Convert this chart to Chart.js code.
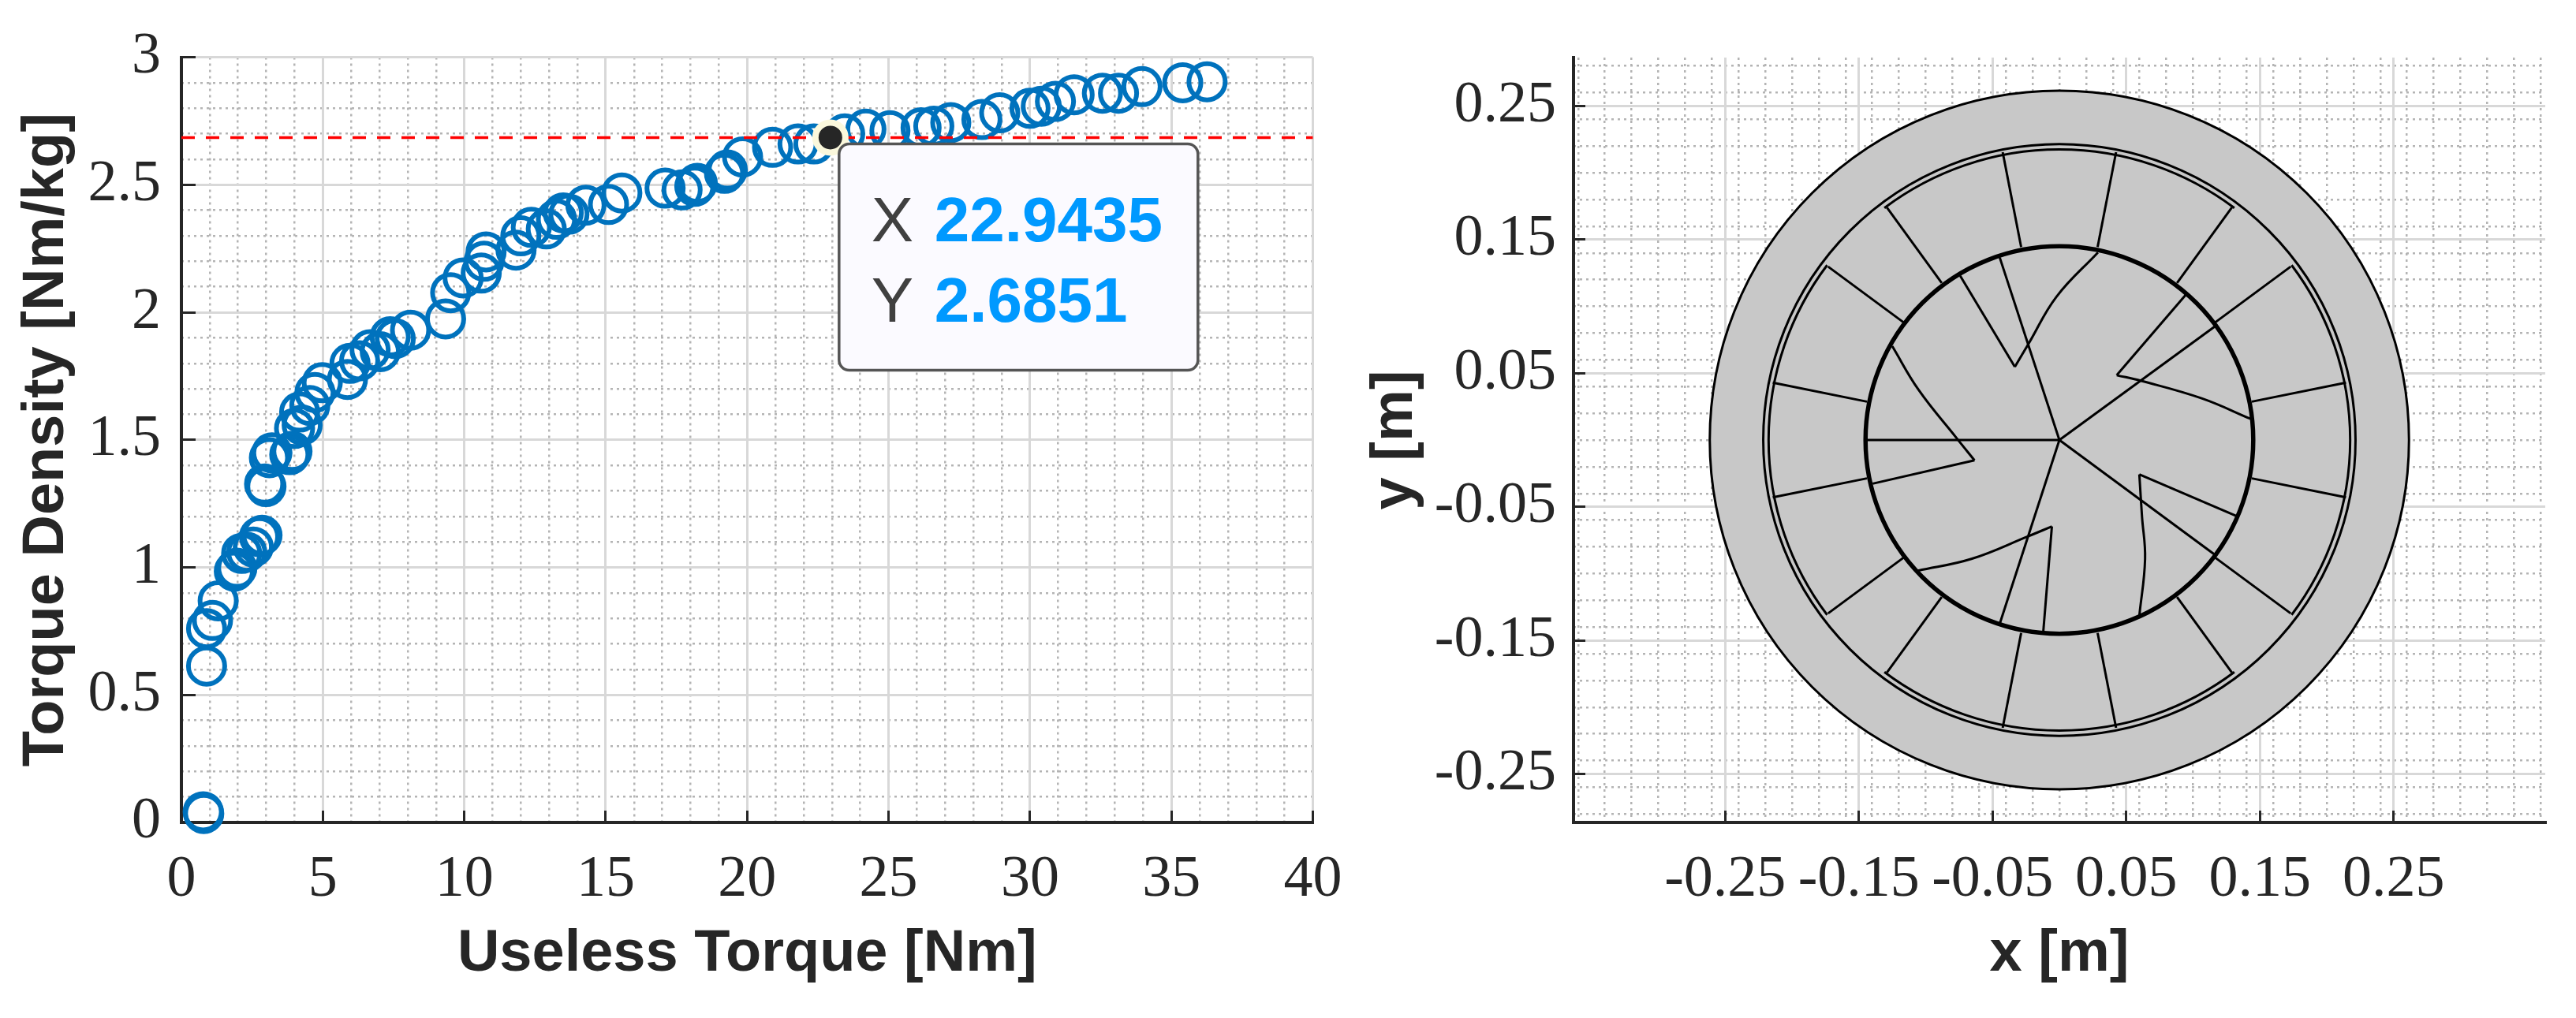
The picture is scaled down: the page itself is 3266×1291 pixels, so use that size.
<!DOCTYPE html>
<html>
<head>
<meta charset="utf-8">
<style>
html,body{margin:0;padding:0;background:#fff;width:3266px;height:1291px;overflow:hidden}
canvas{position:absolute;top:0}
#c1{left:0}
#c2{left:1710px}
</style>
<script src="https://cdn.jsdelivr.net/npm/chart.js@4/dist/chart.umd.min.js"></script>
</head>
<body>
<canvas id="c1" width="1710" height="1291"></canvas>
<canvas id="c2" width="1556" height="1291"></canvas>
<script>
// ---- left chart data ----
const useless = [0.77,0.79,0.89,0.89,1.1,1.3,1.87,1.96,2.13,2.31,2.54,2.76,2.85,2.94,2.99,3.11,3.2,3.83,3.91,4.0,4.27,4.18,4.54,4.72,4.98,5.87,5.96,6.3,6.67,7.03,7.38,7.56,8.1,9.34,9.52,9.96,10.6,10.7,10.77,11.83,12.0,12.37,12.9,13.26,13.5,13.7,14.3,15.1,15.57,17.1,17.7,18.15,18.24,19.2,19.3,19.84,20.9,21.8,22.36,23.45,24.2,25.05,26.15,26.6,27.2,28.3,28.93,30.0,30.4,30.9,31.56,32.56,33.13,33.96,35.4,36.26];
const density = [0.042,0.035,0.613,0.76,0.792,0.869,0.985,0.997,1.055,1.06,1.08,1.12,1.126,1.327,1.317,1.43,1.449,1.442,1.455,1.545,1.558,1.609,1.635,1.686,1.724,1.737,1.80,1.81,1.853,1.846,1.904,1.897,1.93,1.974,2.077,2.135,2.154,2.2,2.237,2.244,2.30,2.333,2.327,2.365,2.39,2.385,2.42,2.423,2.468,2.487,2.48,2.494,2.506,2.545,2.558,2.609,2.647,2.66,2.66,2.70,2.718,2.712,2.724,2.73,2.744,2.756,2.782,2.80,2.808,2.827,2.853,2.859,2.859,2.885,2.90,2.904];
const tipX = [22.9435];
const tipY = [2.6851];
const refLineX = [0,40];
const refLineY = [2.6851,2.6851];
const leftXTicks = [0,5,10,15,20,25,30,35,40];
const leftYTicks = [0,0.5,1,1.5,2,2.5,3];
const leftXTitle = "Useless Torque [Nm]";
const leftYTitle = "Torque Density [Nm/kg]";
const tipLabels = ["X","Y"];
const tipValues = ["22.9435","2.6851"];

// ---- right chart data ----
const rightTicks = [-0.25,-0.15,-0.05,0.05,0.15,0.25];
const rightXTitle = "x [m]";
const rightYTitle = "y [m]";
const outerRadius = 0.2615;
const statorRing = 0.2215;
const rotorRadius = 0.145;
const magnetArcR = 0.2175;
const magnetArcs = [[53,127],[-37,37],[233,307],[143,217]];
const statorLines = [
 [-0.0424,0.2155,-0.0286,0.1445],[0.0424,0.2155,0.0286,0.1445],
 [-0.129,0.174,-0.088,0.1176],[0.129,0.174,0.088,0.1176],
 [-0.173,0.1298,-0.1167,0.0882],[0.173,0.1298,0.1167,0.0882],
 [-0.2144,0.0429,-0.1439,0.0287],[0.2144,0.0429,0.1439,0.0287],
 [-0.0424,-0.2155,-0.0286,-0.1445],[0.0424,-0.2155,0.0286,-0.1445],
 [-0.129,-0.174,-0.088,-0.1176],[0.129,-0.174,0.088,-0.1176],
 [-0.173,-0.1298,-0.1167,-0.0882],[0.173,-0.1298,0.1167,-0.0882],
 [-0.2144,-0.0429,-0.1439,-0.0287],[0.2144,-0.0429,0.1439,-0.0287]
];
const rotorSpokes = [
 [0,0,-0.1448,0],[0,0,-0.0446,0.1366],[0,0,0.1177,0.086],[0,0,0.1177,-0.0869],[0,0,-0.0446,-0.1375]
];
const magnetEdges = [
 [-0.0742,0.1229,-0.0333,0.0548],[0.0946,0.1088,0.0429,0.0485],[0.1324,-0.0569,0.0598,-0.0257],
 [-0.0121,-0.1442,-0.0056,-0.0647],[-0.1397,-0.0327,-0.0635,-0.0152]
];
const magnetCurves = [
 [[-0.0333,0.0548],[-0.0229,0.0723],[-0.0023,0.1071],[0.0288,0.1404]],
 [[0.0429,0.0485],[0.0612,0.0443],[0.1064,0.0312],[0.1431,0.0158]],
 [[0.0598,-0.0257],[0.0618,-0.0573],[0.0641,-0.089],[0.0598,-0.1316]],
 [[-0.0056,-0.0647],[-0.0234,-0.0721],[-0.0658,-0.089],[-0.1058,-0.0978]],
 [[-0.0635,-0.0152],[-0.0771,0.0017],[-0.1053,0.0375],[-0.125,0.0702]]
];

// ---- styling ----
const INK = '#262626', MAJOR = '#d8d8d8', MINOR = '#b4b4b4';
const TICK_FONT = {family:'"Liberation Serif"', size:74};
const TITLE_FONT = {family:'"Liberation Sans"', size:74, weight:'bold'};

function steps(from, to, step, skip){
  const out=[];
  const n=Math.round((to-from)/step);
  for(let i=0;i<=n;i++){
    const v=+(from+i*step).toFixed(4);
    if(!skip.some(s=>Math.abs(s-v)<1e-9)) out.push(v);
  }
  return out;
}
const noOverflow = s=>{s.paddingLeft=0;s.paddingRight=0;s.paddingTop=0;s.paddingBottom=0;};
const mainAxis = (vals,size,title,titleOpts,min,max,pos,tickLen,padding)=>({
  type:'linear',position:pos,min,max,
  afterBuildTicks:s=>{s.ticks=vals.map(v=>({value:v}));},
  afterFit:s=>{ if(pos==='left') s.width=size; else s.height=size; noOverflow(s); },
  grid:{color:MAJOR,lineWidth:3,tickColor:INK,tickWidth:3,tickLength:tickLen,drawTicks:true},
  border:{color:INK,width:4},
  ticks:{autoSkip:false,maxRotation:0,minRotation:0,color:INK,font:TICK_FONT,padding,callback:v=>String(v)},
  title:{display:true,text:title,color:INK,font:TITLE_FONT,padding:titleOpts}
});
const minorAxis = (vals,min,max,pos)=>({
  type:'linear',position:pos,min,max,
  afterBuildTicks:s=>{s.ticks=vals.map(v=>({value:v}));},
  afterFit:s=>{ if(pos==='left') s.width=0; else s.height=0; noOverflow(s); },
  grid:{color:MINOR,lineWidth:2.5,drawTicks:false},
  border:{display:false,dash:[3,5]},
  ticks:{display:false,autoSkip:false}
});

const tipPlugin = {
  id:'tip',
  afterDatasetsDraw(chart){
    const ctx=chart.ctx;
    const px=chart.scales.x.getPixelForValue(tipX[0]);
    const py=chart.scales.y.getPixelForValue(tipY[0]);
    const x=px+11, y=py+8, w=455, h=287;
    ctx.save();
    ctx.beginPath();
    ctx.roundRect(x,y,w,h,13);
    ctx.fillStyle='#fbfaff';ctx.fill();
    ctx.lineWidth=3.5;ctx.strokeStyle='#555555';ctx.stroke();
    ctx.textBaseline='alphabetic';ctx.textAlign='left';
    const rows=[y+124,y+226];
    tipLabels.forEach((t,i)=>{
      ctx.font='80px "Liberation Sans"';ctx.fillStyle='#404040';
      ctx.fillText(t,x+41,rows[i]);
      ctx.font='bold 80px "Liberation Sans"';ctx.fillStyle='#0099ff';
      ctx.fillText(tipValues[i],x+121,rows[i]);
    });
    ctx.restore();
  }
};

const ringsPlugin = {
  id:'rings',
  beforeDatasetsDraw(chart){
    const {x:sx,y:sy}=chart.scales, ctx=chart.ctx;
    const cx=sx.getPixelForValue(0), cy=sy.getPixelForValue(0);
    const rx=r=>sx.getPixelForValue(r)-cx, ry=r=>cy-sy.getPixelForValue(r);
    ctx.save();
    ctx.beginPath();ctx.ellipse(cx,cy,rx(outerRadius),ry(outerRadius),0,0,2*Math.PI);
    ctx.fillStyle='#c8c8c8';ctx.fill();
    ctx.strokeStyle='#000';ctx.lineWidth=3;ctx.stroke();
    ctx.lineWidth=3;
    ctx.beginPath();ctx.ellipse(cx,cy,rx(statorRing),ry(statorRing),0,0,2*Math.PI);ctx.stroke();
    magnetArcs.forEach(a=>{
      ctx.beginPath();
      ctx.ellipse(cx,cy,rx(magnetArcR),ry(magnetArcR),0,-a[1]*Math.PI/180,-a[0]*Math.PI/180);
      ctx.stroke();
    });
    ctx.lineWidth=5.5;
    ctx.beginPath();ctx.ellipse(cx,cy,rx(rotorRadius),ry(rotorRadius),0,0,2*Math.PI);ctx.stroke();
    ctx.restore();
  }
};

new Chart(document.getElementById('c1'),{
  type:'scatter',
  plugins:[tipPlugin],
  data:{datasets:[
    {data:tipX.map((x,i)=>({x,y:tipY[i]})),pointRadius:19,pointBorderWidth:8,pointBackgroundColor:'#262626',pointBorderColor:'#fbf8dc',showLine:false,order:0,clip:false},
    {data:refLineX.map((x,i)=>({x,y:refLineY[i]})),showLine:true,pointRadius:0,borderColor:'#ff0000',borderWidth:3.5,borderDash:[17,14],order:1,clip:false},
    {data:useless.map((x,i)=>({x,y:density[i]})),showLine:false,pointRadius:23,pointBorderWidth:6,pointBorderColor:'#0072BD',pointBackgroundColor:'rgba(0,0,0,0)',order:2,clip:false}
  ]},
  options:{
    responsive:false,animation:false,devicePixelRatio:1,
    layout:{padding:{top:72.6,right:45.5,left:0,bottom:0}},
    plugins:{legend:{display:false},tooltip:{enabled:false}},
    scales:{
      xm:minorAxis(steps(1,39,1,leftXTicks),0,40,'bottom'),
      ym:minorAxis(steps(0.1,2.9,0.1,leftYTicks),0,3,'left'),
      x:mainAxis(leftXTicks,248,leftXTitle,{bottom:36,top:0},0,40,'bottom',-15,44),
      y:mainAxis(leftYTicks,230,leftYTitle,{top:15,bottom:0},0,3,'left',-18,44)
    }
  }
});

function lineSet(pts,width,tension){
  return {data:pts.map(p=>({x:p[0],y:p[1]})),showLine:true,pointRadius:0,borderColor:'#000',borderWidth:width,tension:tension||0,clip:false};
}
new Chart(document.getElementById('c2'),{
  type:'scatter',
  plugins:[ringsPlugin],
  data:{datasets:[
    ...statorLines.map(l=>lineSet([[l[0],l[1]],[l[2],l[3]]],3)),
    ...rotorSpokes.map(l=>lineSet([[l[0],l[1]],[l[2],l[3]]],3)),
    ...magnetEdges.map(l=>lineSet([[l[0],l[1]],[l[2],l[3]]],3)),
    ...magnetCurves.map(c=>lineSet(c,3,0.4))
  ]},
  options:{
    responsive:false,animation:false,devicePixelRatio:1,
    layout:{padding:{top:73,right:39,left:0,bottom:0}},
    plugins:{legend:{display:false},tooltip:{enabled:false}},
    scales:{
      xm:minorAxis(steps(-0.36,0.36,0.02,[]),-0.3634,0.3634,'bottom'),
      ym:minorAxis(steps(-0.28,0.28,0.02,[]),-0.2863,0.2863,'left'),
      x:mainAxis(rightTicks,248,rightXTitle,{bottom:36,top:0},-0.3634,0.3634,'bottom',-15,44),
      y:mainAxis(rightTicks,285,rightYTitle,{top:15,bottom:0},-0.2863,0.2863,'left',-15,37)
    }
  }
});
</script>
</body>
</html>
